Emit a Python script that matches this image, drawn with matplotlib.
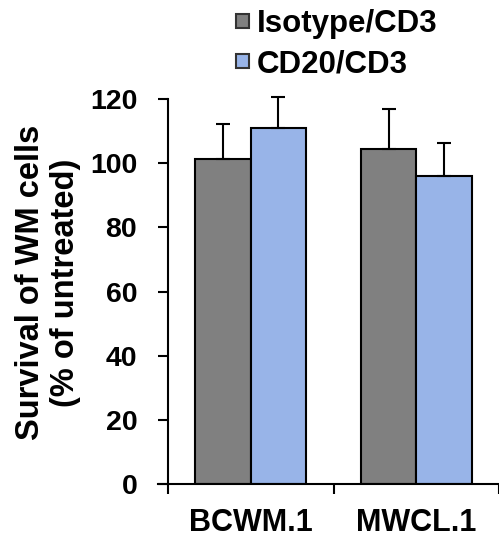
import matplotlib
matplotlib.use('Agg')
import matplotlib.pyplot as plt
import numpy as np
from matplotlib.patches import Patch

plt.rcParams['font.family'] = ['Liberation Sans', 'DejaVu Sans']
plt.rcParams['font.weight'] = 'bold'

# 数据
cell_lines = ['BCWM.1', 'MWCL.1']
series = ['Isotype/CD3', 'CD20/CD3']
isotype_vals = [101.2, 104.4]
isotype_err = [11.0, 12.6]
cd20_vals = [111.1, 96.0]
cd20_err = [9.4, 10.2]
colors = ['#808080', '#98B4E8']

fig = plt.figure(figsize=(4.99, 5.39), dpi=100)
ax = fig.add_axes([168 / 499, 1 - 484 / 539, 1 - 168 / 499, (484 - 99) / 539])

x = np.arange(len(cell_lines))
w = 0.335
lw = 1.5
ekw = dict(ecolor='black', elinewidth=lw, capsize=4.7, capthick=lw)

b1 = ax.bar(x - w / 2, isotype_vals, w, color=colors[0], edgecolor='black', linewidth=lw,
            yerr=[np.zeros(len(x)), isotype_err], error_kw=ekw, zorder=2)
b2 = ax.bar(x + w / 2, cd20_vals, w, color=colors[1], edgecolor='black', linewidth=lw,
            yerr=[np.zeros(len(x)), cd20_err], error_kw=ekw, zorder=2)

# 误差线超出 120 时不要裁掉
for b in (b1, b2):
    for art in b.errorbar.get_children():
        art.set_clip_on(False)

ax.set_ylim(0, 120)
ax.set_xlim(-0.5, -0.5 + (499 - 168) / 167)
ax.set_yticks(np.arange(0, 121, 20))
ax.tick_params(axis='y', direction='out', length=7.2, width=lw, pad=15, labelsize=20.5)

# 分组边界刻度 + 类别标签
ax.set_xticks([-0.5, 0.5, 1.5])
ax.set_xticklabels([])
ax.tick_params(axis='x', which='major', direction='out', length=7.2, width=lw)
ax.set_xticks(x, minor=True)
ax.set_xticklabels(cell_lines, minor=True, fontsize=22, fontweight='bold')
ax.tick_params(axis='x', which='minor', length=0, pad=17)

for s in ['top', 'right']:
    ax.spines[s].set_visible(False)
for s in ['left', 'bottom']:
    ax.spines[s].set_linewidth(lw)
ax.spines['bottom'].set_bounds(-0.5 - 10 / 167, ax.get_xlim()[1])

ax.set_ylabel('Survival of WM cells\n(% of untreated)', fontsize=23.5, fontweight='bold',
              linespacing=1.2, labelpad=6)
ax.yaxis.label.set_y(0.5 + 9 / 385)

handles = [Patch(facecolor=c, edgecolor='#333333', linewidth=1.5) for c in colors]
fig.legend(handles, series, loc='upper left', bbox_to_anchor=(233 / 499, 1 - 6 / 539),
           frameon=False, fontsize=22.5, handlelength=0.42, handleheight=0.32,
           handletextpad=0.25, labelspacing=0.33, borderpad=0.1, borderaxespad=0)

plt.savefig('out.png', dpi=100)
plt.close()
